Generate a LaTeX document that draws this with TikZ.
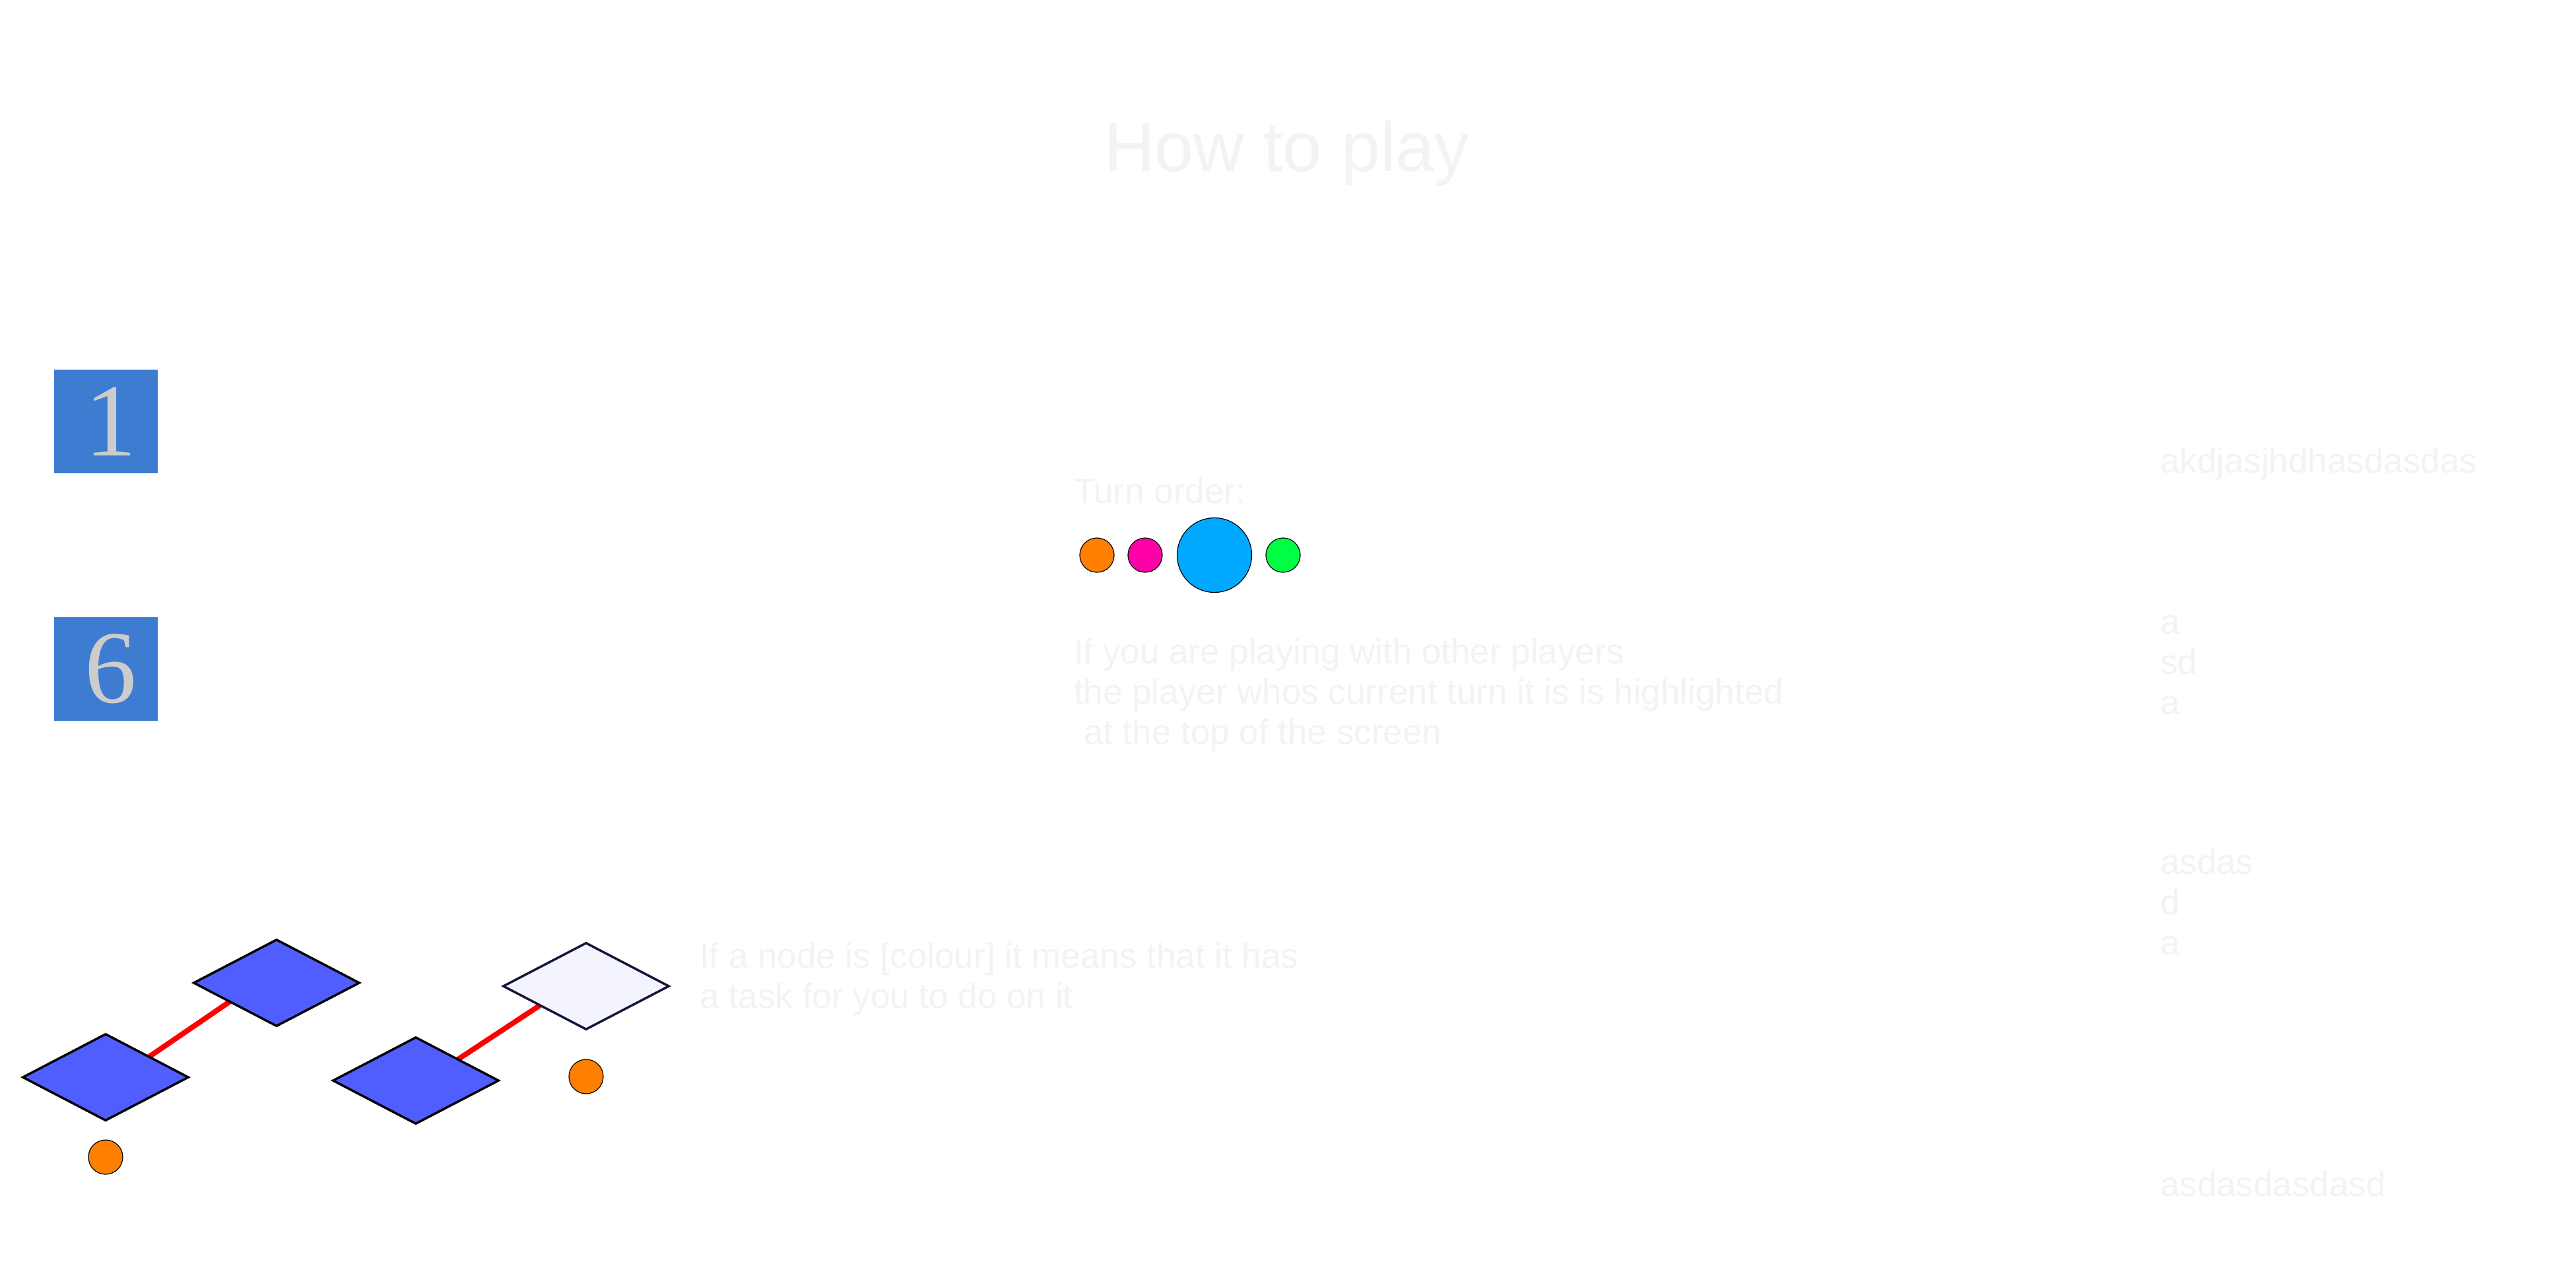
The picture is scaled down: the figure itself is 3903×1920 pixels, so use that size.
\documentclass[tikz,border=0pt]{standalone}
\usepackage{fontspec}
\setmainfont{Liberation Sans}
\newfontfamily\digitfont{Liberation Serif}
\usetikzlibrary{shapes.geometric,backgrounds}
\definecolor{faint}{HTML}{F4F2F2}
\definecolor{boxblue}{HTML}{3E7CD1}
\definecolor{digitgrey}{HTML}{CCCCCC}
\definecolor{tileblue}{HTML}{505DFF}
\definecolor{tilelight}{HTML}{F3F4FE}
\definecolor{tileedge}{HTML}{15153A}
\definecolor{porange}{HTML}{FF8000}
\definecolor{pmagenta}{HTML}{FF00A8}
\definecolor{pblue}{HTML}{00A8FF}
\definecolor{pgreen}{HTML}{00FF44}
\begin{document}
\begin{tikzpicture}[x=1pt,y=-1pt,
  txt/.style={anchor=base west, inner sep=0pt, outer sep=0pt, text=faint,
              font=\fontsize{53}{61}\selectfont},
  titletxt/.style={anchor=base west, inner sep=0pt, outer sep=0pt, text=faint,
              font=\fontsize{106}{120}\selectfont},
  numbox/.style={fill=boxblue, minimum width=157pt, minimum height=157pt, inner sep=0pt},
  digit/.style={inner sep=0pt, outer sep=0pt, text=digitgrey,
              font=\digitfont\fontsize{157}{160}\selectfont},
  player/.style={circle, draw=black, line width=1.2pt, inner sep=0pt, minimum size=52pt},
  tile/.style={diamond, draw=black, line width=3.5pt, fill=tileblue, inner sep=0pt,
              minimum width=252pt, minimum height=132pt},
  lighttile/.style={tile, draw=tileedge, fill=tilelight},
  link/.style={draw=red, line width=8pt}
]
\useasboundingbox (0,0) rectangle (3903,1920);

% title
\node[titletxt] (title) at (1673,259) {How to play};

% number boxes
\node[numbox] (box1) at (160.5,638.5) {};
\node[digit] (num1) at (168,639) {1};
\node[numbox] (box6) at (160.5,1013.5) {};
\node[digit] (num6) at (168,1013) {6};

% turn order
\node[txt] (turn) at (1627,762) {Turn order:};
\node[player, fill=porange] (p1) at (1662,841) {};
\node[player, fill=pmagenta] (p2) at (1735,841) {};
\node[player, fill=pblue, minimum size=113pt] (p3) at (1840,841) {};
\node[player, fill=pgreen] (p4) at (1944,841) {};

\node[txt] (info1) at (1627,1005) {If you are playing with other players};
\node[txt] (info2) at (1627,1066) {the player whos current turn it is is highlighted};
\node[txt] (info3) at (1642,1127) {at the top of the screen};

% right column
\node[txt] (r1) at (3273,716) {akdjasjhdhasdasdas};
\node[txt] (r2) at (3273,960) {a};
\node[txt] (r3) at (3273,1021) {sd};
\node[txt] (r4) at (3273,1082) {a};
\node[txt] (r5) at (3273,1324) {asdas};
\node[txt] (r6) at (3273,1385) {d};
\node[txt] (r7) at (3273,1446) {a};
\node[txt] (r8) at (3273,1812) {asdasdasdasd};

% tiles
\node[tile] (t1) at (160,1632) {};
\node[tile] (t2) at (419,1489) {};
\node[tile] (t3) at (630,1637) {};
\node[lighttile] (t4) at (888,1494) {};
\begin{pgfonlayer}{background}
  \draw[link] ([yshift=-14pt]t1.center) -- ([yshift=20pt]t2.center);
  \draw[link] ([yshift=-10pt]t3.center) -- ([yshift=17pt]t4.center);
\end{pgfonlayer}
\node[player, fill=porange] (o1) at (160,1753) {};
\node[player, fill=porange] (o2) at (888,1631) {};

\node[txt] (task1) at (1060,1466) {If a node is [colour] it means that it has};
\node[txt] (task2) at (1060,1527) {a task for you to do on it};
\end{tikzpicture}
\end{document}
